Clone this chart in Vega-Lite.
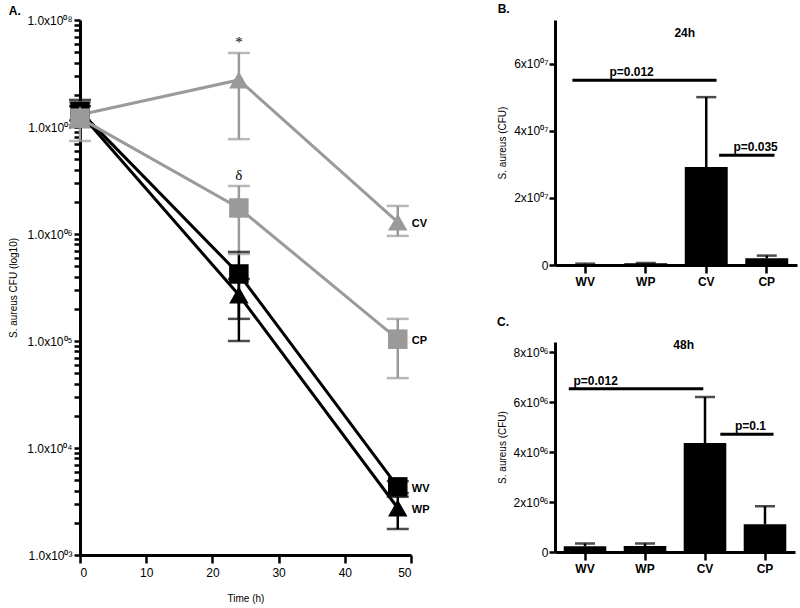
{
  "$schema": "https://vega.github.io/schema/vega-lite/v6.json",
  "background": "white",
  "padding": {"left": 8, "top": 3, "right": 5, "bottom": 2},
  "config": {
    "font": "Liberation Sans",
    "view": {"stroke": null},
    "axis": {
      "grid": false,
      "domainColor": "black",
      "domainWidth": 3,
      "tickColor": "black",
      "tickWidth": 2.5,
      "tickSize": 6,
      "labelColor": "black",
      "labelFont": "Liberation Sans",
      "labelFontSize": 12,
      "titleFont": "Liberation Sans",
      "titleFontSize": 10,
      "titleFontWeight": "normal",
      "titleColor": "black",
      "labelOverlap": false
    },
    "title": {"anchor": "start", "frame": "bounds", "fontSize": 12, "fontWeight": "bold", "font": "Liberation Sans", "color": "black"}
  },
  "datasets": {
    "kinetics": [
      {"group": "WV", "time": 0, "value": 14000000, "lo": 10000000, "hi": 17900000},
      {"group": "WV", "time": 24, "value": 423000, "lo": 161000, "hi": 680000},
      {"group": "WV", "time": 48, "value": 4330, "lo": 3800, "hi": 4900},
      {"group": "WP", "time": 0, "value": 13500000, "lo": 11500000, "hi": 15700000},
      {"group": "WP", "time": 24, "value": 269000, "lo": 100000, "hi": 380000},
      {"group": "WP", "time": 48, "value": 2750, "lo": 1750, "hi": 3500},
      {"group": "CV", "time": 0, "value": 13000000, "lo": 10000000, "hi": 17000000},
      {"group": "CV", "time": 24, "value": 27500000, "lo": 7700000, "hi": 49200000},
      {"group": "CV", "time": 48, "value": 1290000, "lo": 960000, "hi": 1830000},
      {"group": "CP", "time": 0, "value": 12100000, "lo": 7400000, "hi": 17000000},
      {"group": "CP", "time": 24, "value": 1750000, "lo": 650000, "hi": 2810000},
      {"group": "CP", "time": 48, "value": 104000, "lo": 45000, "hi": 161000}
    ],
    "marks": [
      {"time": 24, "value": 49200000, "label": "*"},
      {"time": 24, "value": 2810000, "label": "δ"}
    ],
    "h24": [
      {"group": "WV", "mean": 300000, "hi": 400000},
      {"group": "WP", "mean": 500000, "hi": 600000},
      {"group": "CV", "mean": 29200000, "hi": 50000000},
      {"group": "CP", "mean": 2000000, "hi": 2800000}
    ],
    "h48": [
      {"group": "WV", "mean": 230000, "hi": 340000},
      {"group": "WP", "mean": 240000, "hi": 340000},
      {"group": "CV", "mean": 4360000, "hi": 6200000},
      {"group": "CP", "mean": 1110000, "hi": 1830000}
    ],
    "sig24a": [{"from": "WV", "to": "CV", "y": 55000000, "at": "WP", "label": "p=0.012"}],
    "sig24b": [{"from": "CV", "to": "CP", "y": 32700000, "at": "CP", "label": "p=0.035"}],
    "sig48a": [{"from": "WV", "to": "CV", "y": 6530000, "at": "WV", "label": "p=0.012"}],
    "sig48b": [{"from": "CV", "to": "CP", "y": 4710000, "at": "CP", "label": "p=0.1"}],
    "t24": [{"label": "24h", "at": "CV", "y": 70000000}],
    "t48": [{"label": "48h", "at": "CV", "y": 8400000}]
  },
  "spacing": 67,
  "hconcat": [
    {
      "title": {"text": "A.", "offset": -4},
      "width": 331,
      "height": 535,
      "data": {"name": "kinetics"},
      "encoding": {
        "x": {
          "field": "time", "type": "quantitative",
          "scale": {"domain": [0, 50], "nice": false, "zero": false},
          "axis": {"values": [0, 10, 20, 30, 40, 50], "title": "Time (h)", "tickSize": 8, "labelPadding": 4, "titlePadding": 15}
        }
      },
      "layer": [
        {
          "mark": {"type": "rule", "strokeWidth": 2.5},
          "encoding": {
            "y": {"field": "lo", "type": "quantitative", "scale": {"type": "log", "domain": [1000, 100000000], "nice": false}},
            "y2": {"field": "hi"},
            "color": {"field": "group", "type": "nominal", "scale": {"domain": ["WV", "WP", "CV", "CP"], "range": ["#000000", "#000000", "#9a9a9a", "#9a9a9a"]}, "legend": null}
          }
        },
        {
          "mark": {"type": "tick", "orient": "horizontal", "size": 22, "thickness": 2.5},
          "encoding": {
            "y": {"field": "lo", "type": "quantitative"},
            "color": {"field": "group", "type": "nominal", "legend": null}
          }
        },
        {
          "mark": {"type": "tick", "orient": "horizontal", "size": 22, "thickness": 2.5},
          "encoding": {
            "y": {"field": "hi", "type": "quantitative"},
            "color": {"field": "group", "type": "nominal", "legend": null}
          }
        },
        {
          "mark": {"type": "line", "strokeWidth": 3},
          "encoding": {
            "y": {"field": "value", "type": "quantitative"},
            "color": {"field": "group", "type": "nominal", "legend": null},
            "detail": {"field": "group"}
          }
        },
        {
          "mark": {"type": "point", "filled": true, "opacity": 1, "size": 380},
          "encoding": {
            "y": {
              "field": "value", "type": "quantitative",
              "axis": {
                "title": "S. aureus CFU (log10)",
                "titlePadding": 8,
                "values": [1000, 2000, 3000, 4000, 5000, 6000, 7000, 8000, 9000, 10000, 20000, 30000, 40000, 50000, 60000, 70000, 80000, 90000, 100000, 200000, 300000, 400000, 500000, 600000, 700000, 800000, 900000, 1000000, 2000000, 3000000, 4000000, 5000000, 6000000, 7000000, 8000000, 9000000, 10000000, 20000000, 30000000, 40000000, 50000000, 60000000, 70000000, 80000000, 90000000, 100000000],
                "labelExpr": "datum.value == 100000000 ? '1.0x10⁰⁸' : datum.value == 10000000 ? '1.0x10⁰⁷' : datum.value == 1000000 ? '1.0x10⁰⁶' : datum.value == 100000 ? '1.0x10⁰⁵' : datum.value == 10000 ? '1.0x10⁰⁴' : datum.value == 1000 ? '1.0x10⁰³' : ''",
                "tickSize": 6,
                "labelPadding": 2
              }
            },
            "color": {"field": "group", "type": "nominal", "legend": null},
            "shape": {"field": "group", "type": "nominal", "scale": {"domain": ["WV", "WP", "CV", "CP"], "range": ["square", "triangle-up", "triangle-up", "square"]}, "legend": null}
          }
        },
        {
          "data": {"name": "marks"},
          "mark": {"type": "text", "font": "Liberation Serif", "fontSize": 15, "baseline": "bottom", "dy": -3, "color": "black"},
          "encoding": {
            "y": {"field": "value", "type": "quantitative"},
            "text": {"field": "label"}
          }
        },
        {
          "transform": [{"filter": "datum.time == 48"}],
          "mark": {"type": "text", "align": "left", "baseline": "middle", "dx": 14, "dy": 2, "fontSize": 11, "fontWeight": "bold", "color": "black"},
          "encoding": {
            "y": {"field": "value", "type": "quantitative"},
            "text": {"field": "group"}
          }
        }
      ]
    },
    {
      "spacing": 29,
      "vconcat": [
        {
          "title": {"text": "B.", "offset": 4},
          "width": 242,
          "height": 245,
          "layer": [
            {
              "data": {"name": "h24"},
              "mark": {"type": "bar", "color": "black"},
              "encoding": {
                "x": {"field": "group", "type": "nominal", "sort": ["WV", "WP", "CV", "CP"], "scale": {"domain": ["WV", "WP", "CV", "CP"], "paddingInner": 0.29, "paddingOuter": 0.145}, "axis": {"title": null, "labelAngle": 0, "labelFontWeight": "bold", "tickSize": 8, "labelPadding": 3}},
                "y": {"field": "mean", "type": "quantitative", "scale": {"domain": [0, 72980000], "nice": false}, "axis": {"title": "S. aureus (CFU)", "values": [0, 20000000, 40000000, 60000000], "labelExpr": "datum.value == 0 ? '0' : (datum.value / 10000000) + 'x10⁰⁷'", "tickSize": 6, "labelPadding": 1, "titlePadding": 6}}
              }
            },
            {
              "data": {"name": "h24"},
              "mark": {"type": "rule", "strokeWidth": 2.5, "color": "black"},
              "encoding": {
                "x": {"field": "group", "type": "nominal", "sort": ["WV", "WP", "CV", "CP"]},
                "y": {"field": "mean", "type": "quantitative"},
                "y2": {"field": "hi"}
              }
            },
            {
              "data": {"name": "h24"},
              "mark": {"type": "tick", "orient": "horizontal", "size": 20, "thickness": 2.5, "color": "black"},
              "encoding": {
                "x": {"field": "group", "type": "nominal", "sort": ["WV", "WP", "CV", "CP"]},
                "y": {"field": "hi", "type": "quantitative"}
              }
            },
            {
              "data": {"name": "sig24a"},
              "mark": {"type": "rule", "strokeWidth": 3, "color": "black"},
              "encoding": {
                "x": {"field": "from", "type": "nominal", "sort": ["WV", "WP", "CV", "CP"], "bandPosition": 0.2},
                "x2": {"field": "to", "bandPosition": 0.74},
                "y": {"field": "y", "type": "quantitative"}
              }
            },
            {
              "data": {"name": "sig24a"},
              "mark": {"type": "text", "baseline": "bottom", "dy": -1, "fontSize": 12, "fontWeight": "bold", "color": "black"},
              "encoding": {
                "x": {"field": "at", "type": "nominal", "sort": ["WV", "WP", "CV", "CP"], "bandPosition": 0.17},
                "y": {"field": "y", "type": "quantitative"},
                "text": {"field": "label"}
              }
            },
            {
              "data": {"name": "sig24b"},
              "mark": {"type": "rule", "strokeWidth": 3, "color": "black"},
              "encoding": {
                "x": {"field": "from", "type": "nominal", "sort": ["WV", "WP", "CV", "CP"], "bandPosition": 0.8},
                "x2": {"field": "to", "bandPosition": 0.68},
                "y": {"field": "y", "type": "quantitative"}
              }
            },
            {
              "data": {"name": "sig24b"},
              "mark": {"type": "text", "baseline": "bottom", "dy": -1, "fontSize": 12, "fontWeight": "bold", "color": "black"},
              "encoding": {
                "x": {"field": "at", "type": "nominal", "sort": ["WV", "WP", "CV", "CP"], "bandPosition": 0.24},
                "y": {"field": "y", "type": "quantitative"},
                "text": {"field": "label"}
              }
            },
            {
              "data": {"name": "t24"},
              "mark": {"type": "text", "baseline": "middle", "dy": 3, "fontSize": 12, "fontWeight": "bold", "color": "black"},
              "encoding": {
                "x": {"field": "at", "type": "nominal", "sort": ["WV", "WP", "CV", "CP"], "bandPosition": 0},
                "y": {"field": "y", "type": "quantitative"},
                "text": {"field": "label"}
              }
            }
          ]
        },
        {
          "title": {"text": "C.", "offset": 10},
          "width": 240,
          "height": 210,
          "layer": [
            {
              "data": {"name": "h48"},
              "mark": {"type": "bar", "color": "black"},
              "encoding": {
                "x": {"field": "group", "type": "nominal", "sort": ["WV", "WP", "CV", "CP"], "scale": {"domain": ["WV", "WP", "CV", "CP"], "paddingInner": 0.29, "paddingOuter": 0.145}, "axis": {"title": null, "labelAngle": 0, "labelFontWeight": "bold", "tickSize": 8, "labelPadding": 3}},
                "y": {"field": "mean", "type": "quantitative", "scale": {"domain": [0, 8400000], "nice": false}, "axis": {"title": "S. aureus (CFU)", "values": [0, 2000000, 4000000, 6000000, 8000000], "labelExpr": "datum.value == 0 ? '0' : (datum.value / 1000000) + 'x10⁰⁶'", "tickSize": 6, "labelPadding": 1, "titlePadding": 6}}
              }
            },
            {
              "data": {"name": "h48"},
              "mark": {"type": "rule", "strokeWidth": 2.5, "color": "black"},
              "encoding": {
                "x": {"field": "group", "type": "nominal", "sort": ["WV", "WP", "CV", "CP"]},
                "y": {"field": "mean", "type": "quantitative"},
                "y2": {"field": "hi"}
              }
            },
            {
              "data": {"name": "h48"},
              "mark": {"type": "tick", "orient": "horizontal", "size": 20, "thickness": 2.5, "color": "black"},
              "encoding": {
                "x": {"field": "group", "type": "nominal", "sort": ["WV", "WP", "CV", "CP"]},
                "y": {"field": "hi", "type": "quantitative"}
              }
            },
            {
              "data": {"name": "sig48a"},
              "mark": {"type": "rule", "strokeWidth": 3, "color": "black"},
              "encoding": {
                "x": {"field": "from", "type": "nominal", "sort": ["WV", "WP", "CV", "CP"], "bandPosition": 0.12},
                "x2": {"field": "to", "bandPosition": 0.46},
                "y": {"field": "y", "type": "quantitative"}
              }
            },
            {
              "data": {"name": "sig48a"},
              "mark": {"type": "text", "baseline": "bottom", "dy": -1, "fontSize": 12, "fontWeight": "bold", "color": "black"},
              "encoding": {
                "x": {"field": "at", "type": "nominal", "sort": ["WV", "WP", "CV", "CP"], "bandPosition": 0.75},
                "y": {"field": "y", "type": "quantitative"},
                "text": {"field": "label"}
              }
            },
            {
              "data": {"name": "sig48b"},
              "mark": {"type": "rule", "strokeWidth": 3, "color": "black"},
              "encoding": {
                "x": {"field": "from", "type": "nominal", "sort": ["WV", "WP", "CV", "CP"], "bandPosition": 0.86},
                "x2": {"field": "to", "bandPosition": 0.7},
                "y": {"field": "y", "type": "quantitative"}
              }
            },
            {
              "data": {"name": "sig48b"},
              "mark": {"type": "text", "baseline": "bottom", "dy": -1, "fontSize": 12, "fontWeight": "bold", "color": "black"},
              "encoding": {
                "x": {"field": "at", "type": "nominal", "sort": ["WV", "WP", "CV", "CP"], "bandPosition": 0.16},
                "y": {"field": "y", "type": "quantitative"},
                "text": {"field": "label"}
              }
            },
            {
              "data": {"name": "t48"},
              "mark": {"type": "text", "baseline": "middle", "dy": 3, "fontSize": 12, "fontWeight": "bold", "color": "black"},
              "encoding": {
                "x": {"field": "at", "type": "nominal", "sort": ["WV", "WP", "CV", "CP"], "bandPosition": 0},
                "y": {"field": "y", "type": "quantitative"},
                "text": {"field": "label"}
              }
            }
          ]
        }
      ]
    }
  ]
}
